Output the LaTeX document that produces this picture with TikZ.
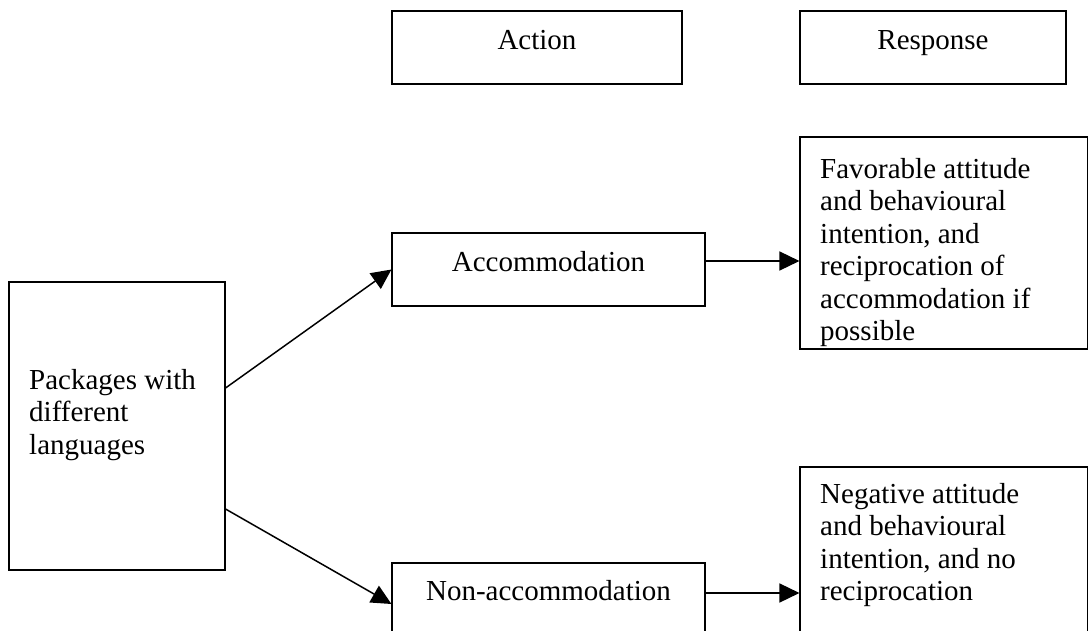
\documentclass[tikz,border=0pt]{standalone}
\usepackage{fontspec}
\setmainfont{Liberation Serif}
\usetikzlibrary{arrows.meta}
\begin{document}
\begin{tikzpicture}[x=1pt,y=-1pt,
  every node/.style={font=\fontsize{29}{32.5}\selectfont},
  headbox/.style={draw=black, line width=2.4pt, rectangle, inner sep=0pt},
  plainbox/.style={draw=black, line width=1.1pt, rectangle, inner sep=0pt},
  label/.style={inner sep=0pt, text=black},
  para/.style={inner sep=0pt, align=left, anchor=north west, text=black},
  arr/.style={draw=black, line width=1.5pt, -{Triangle[length=20pt,width=19pt]}}]
\useasboundingbox (0,0) rectangle (1089,631);
\fill[white] (0,0) rectangle (1089,631);
% header boxes
\node[headbox, minimum width=290pt, minimum height=73pt] (act) at (537,47.5) {};
\node[headbox, minimum width=266pt, minimum height=73pt] (resp) at (933,47.5) {};
\node[label, anchor=base] (actt) at (537,50) {Action};
\node[label, anchor=base] (respt) at (933,50) {Response};
% main boxes
\node[plainbox, minimum width=216pt, minimum height=288pt] (pkg) at (117,426) {};
\node[plainbox, minimum width=313pt, minimum height=73pt] (acc) at (548.5,269.5) {};
\node[plainbox, minimum width=313pt, minimum height=74pt] (non) at (548.5,600) {};
\node[plainbox, minimum width=287.5pt, minimum height=212pt] (fav) at (943.75,243) {};
\node[plainbox, minimum width=287.5pt, minimum height=220pt] (neg) at (943.75,577) {};
% texts
\node[label, anchor=base] (acct) at (548.5,271) {Accommodation};
\node[label, anchor=base] (nont) at (548.5,600) {Non-accommodation};
\node[para] (pkgt) at (29,369) {Packages with\\different\\languages};
\node[para] (favt) at (820,158) {Favorable attitude\\and behavioural\\intention, and\\reciprocation of\\accommodation if\\possible};
\node[para] (negt) at (820,483) {Negative attitude\\and behavioural\\intention, and no\\reciprocation};
% connectors
\draw[arr] ([yshift=38pt]pkg.east) -- (acc.west);
\draw[arr] ([yshift=-83pt]pkg.east) -- ([yshift=-4pt]non.west);
\draw[arr] ([yshift=8.5pt]acc.east) -- ([yshift=8.5pt]acc.east -| fav.west);
\draw[arr] ([yshift=7pt]non.east) -- ([yshift=7pt]non.east -| neg.west);
\end{tikzpicture}
\end{document}
